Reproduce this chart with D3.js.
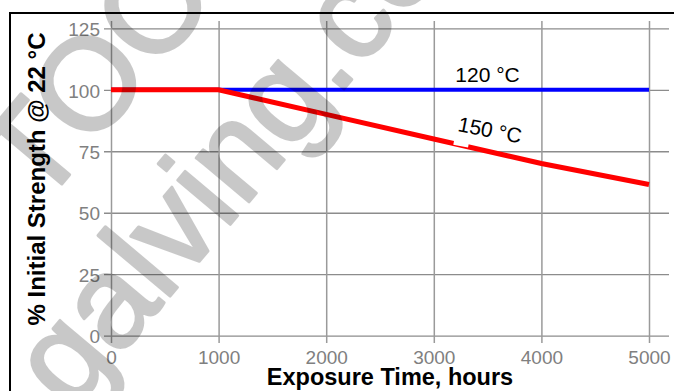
<!DOCTYPE html>
<html>
<head>
<meta charset="utf-8">
<script src="https://cdn.jsdelivr.net/npm/d3@7"></script>
<style>
  body { margin: 0; background: #fff; }
  svg { display: block; }
  text { font-family: Arial, "Liberation Sans", sans-serif; }
</style>
</head>
<body>
<svg width="674" height="391"></svg>
<script>
// datos
const hours = [0, 1000, 2000, 3000, 4000, 5000];
const strength120 = [100, 100, 100, 100, 100, 100];
const strength150 = [100, 100, 90, 80, 70, 61.5];
const xTicks = [0, 1000, 2000, 3000, 4000, 5000];
const yTicks = [0, 25, 50, 75, 100, 125];
const seriesNames = ["120 °C", "150 °C"];

const svg = d3.select("svg");

const x = d3.scaleLinear().domain([0, 5000]).range([111, 649]);
const y = d3.scaleLinear().domain([0, 125]).range([335.7, 28.3]);

// marco exterior (sale del recorte por la derecha y abajo)
svg.append("rect")
  .attr("x", 10).attr("y", 13)
  .attr("width", 700).attr("height", 420)
  .attr("fill", "none")
  .attr("stroke", "#000")
  .attr("stroke-width", 2);

// eje Y + grilla horizontal
const gy = svg.append("g")
  .attr("transform", "translate(104,0)")
  .call(d3.axisLeft(y).tickValues(yTicks).tickSize(-565).tickPadding(4));
gy.attr("font-family", null).attr("font-size", null);
gy.select(".domain").remove();
gy.selectAll("line").attr("stroke", "#8c8c8c").attr("stroke-width", 1.3);
gy.selectAll("text")
  .attr("fill", "#808080")
  .attr("dy", "0.38em")
  .style("font-size", "19px");

// eje X + grilla vertical
const gx = svg.append("g")
  .attr("transform", "translate(0,343)")
  .call(d3.axisBottom(x).tickValues(xTicks).tickSize(-322).tickPadding(8).tickFormat(d3.format("d")));
gx.attr("font-family", null).attr("font-size", null);
gx.select(".domain").remove();
gx.selectAll("line").attr("stroke", "#9a9a9a").attr("stroke-width", 1.5);
gx.selectAll("text")
  .attr("fill", "#808080")
  .style("font-size", "19px");

// lineas
const line = d3.line()
  .x((d, i) => x(hours[i]))
  .y(d => y(d));

svg.append("path")
  .datum(strength120)
  .attr("d", line)
  .attr("fill", "none")
  .attr("stroke", "#0000ff")
  .attr("stroke-width", 4);

svg.append("path")
  .datum(strength150)
  .attr("d", line)
  .attr("fill", "none")
  .attr("stroke", "#ff0000")
  .attr("stroke-width", 5);

// etiquetas de las series
svg.append("text")
  .attr("x", x(3200)).attr("y", y(100) - 8)
  .style("font-size", "21px")
  .attr("fill", "#000")
  .text(seriesNames[0]);

const lab = svg.append("g")
  .attr("transform", `translate(${x(3215)},${y(83.2)}) rotate(11)`);
lab.append("rect")
  .attr("x", -1).attr("y", -18)
  .attr("width", 15).attr("height", 32)
  .attr("fill", "#fff");
lab.append("text")
  .style("font-size", "21px")
  .attr("fill", "#000")
  .text(seriesNames[1]);

// titulos de ejes
svg.append("text")
  .attr("x", 390).attr("y", 385)
  .attr("text-anchor", "middle")
  .style("font-size", "23.5px")
  .style("font-weight", "bold")
  .text("Exposure Time, hours");

svg.append("text")
  .attr("transform", "translate(45,179) rotate(-90)")
  .attr("text-anchor", "middle")
  .style("font-size", "24px")
  .style("font-weight", "bold")
  .text("% Initial Strength @ 22 °C");

// marca de agua (gris translucido encima de todo)
const wm = svg.append("g")
  .attr("transform", "translate(71.5,413.6) rotate(-50)")
  .attr("opacity", 0.21)
  .attr("fill", "#000")
  .attr("stroke", "#000")
  .attr("stroke-width", 3)
  .attr("stroke-linejoin", "round")
  .style("font-size", "130px");
wm.append("text").attr("x", 0).attr("y", 0).text("galving.com");
wm.append("text").attr("x", 136).attr("y", -155).text("TOO");
</script>
</body>
</html>
